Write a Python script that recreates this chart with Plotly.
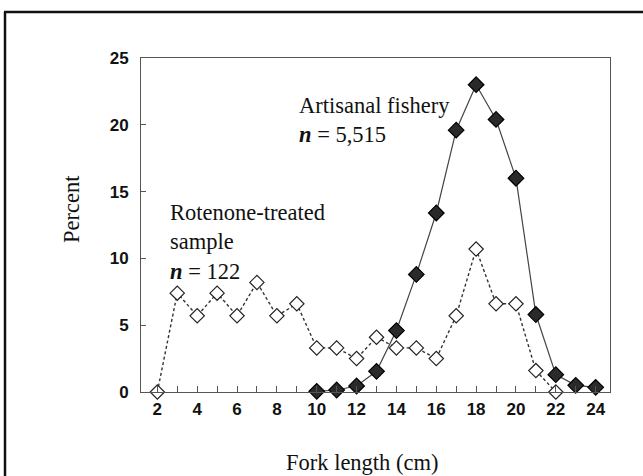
import plotly.graph_objects as go

# Data
fork_rot = [2, 3, 4, 5, 6, 7, 8, 9, 10, 11, 12, 13, 14, 15, 16, 17, 18, 19, 20, 21, 22]
pct_rot = [0, 7.4, 5.7, 7.4, 5.7, 8.2, 5.7, 6.6, 3.3, 3.3, 2.5, 4.1, 3.3, 3.3, 2.5, 5.7, 10.7, 6.6, 6.6, 1.6, 0]
fork_art = [10, 11, 12, 13, 14, 15, 16, 17, 18, 19, 20, 21, 22, 23, 24]
pct_art = [0.05, 0.15, 0.45, 1.55, 4.6, 8.8, 13.4, 19.6, 23.0, 20.4, 16.0, 5.8, 1.3, 0.5, 0.35]
x_ticks = [2, 4, 6, 8, 10, 12, 14, 16, 18, 20, 22, 24]
y_ticks = [0, 5, 10, 15, 20, 25]

W, H = 643, 476
L, R, T, B = 141, 610, 58, 392

def px(x):
    return (x - L) / (R - L)

def py(y):
    return (B - y) / (B - T)

fig = go.Figure()
fig.add_trace(go.Scatter(
    x=fork_rot, y=pct_rot, mode="lines+markers",
    line=dict(color="#333", width=1.4, dash="3px,2.5px"),
    marker=dict(symbol="diamond", size=11, color="white", line=dict(color="#222", width=1.2)),
    cliponaxis=False, showlegend=False))
fig.add_trace(go.Scatter(
    x=fork_art, y=pct_art, mode="lines+markers",
    line=dict(color="#444", width=1.2),
    marker=dict(symbol="diamond", size=12, color="#2a2a2a", line=dict(color="#000", width=1.2)),
    cliponaxis=False, showlegend=False))

tick_font = dict(family="Liberation Sans, Arial", size=17, color="#111", weight="bold")
times = "Liberation Serif, Times New Roman"

fig.update_xaxes(
    range=[1.18, 24.72], tickvals=x_ticks, ticktext=[str(v) for v in x_ticks],
    ticks="inside", ticklen=6, tickcolor="#555", tickwidth=1,
    minor=dict(dtick=1, tick0=1, ticks="inside", ticklen=6, tickcolor="#555"),
    showline=True, linecolor="#555", linewidth=1, mirror=True,
    showgrid=False, zeroline=False, tickfont=tick_font, ticklabelstandoff=2)
fig.update_yaxes(
    range=[0, 25], tickvals=y_ticks, ticks="inside", ticklen=5, tickcolor="#555",
    showline=True, linecolor="#555", linewidth=1, mirror=True,
    showgrid=False, zeroline=False, tickfont=tick_font, ticklabelstandoff=8)

anns = [
    dict(text="Rotenone-treated<br>sample<br><i><b>n</b></i> = 122", x=px(168), y=py(198),
         xanchor="left", yanchor="top", align="left"),
    dict(text="Artisanal fishery<br><i><b>n</b></i> = 5,515", x=px(297), y=py(91),
         xanchor="left", yanchor="top", align="left"),
    dict(text="Fork length (cm)", x=px(362), y=py(462), xanchor="center", yanchor="middle"),
    dict(text="Percent", x=px(72), y=py(209), xanchor="center", yanchor="middle", textangle=-90),
]
for a in anns:
    fig.add_annotation(xref="paper", yref="paper", showarrow=False,
                       font=dict(family=times, size=22.5, color="#111"), **a)

# outer frame lines (left and top)
fig.add_shape(type="line", xref="paper", yref="paper", x0=px(5), x1=px(5), y0=py(12), y1=py(480),
              line=dict(color="#111", width=2.5))
fig.add_shape(type="line", xref="paper", yref="paper", x0=px(4), x1=px(650), y0=py(12), y1=py(12),
              line=dict(color="#111", width=2.5))

fig.update_layout(
    width=W, height=H, margin=dict(l=L, r=W - R, t=T, b=H - B),
    paper_bgcolor="white", plot_bgcolor="white")

fig.write_html("out.html", config={"displayModeBar": False},
               post_script="document.body.style.margin='0px';document.body.style.overflow='hidden';")
